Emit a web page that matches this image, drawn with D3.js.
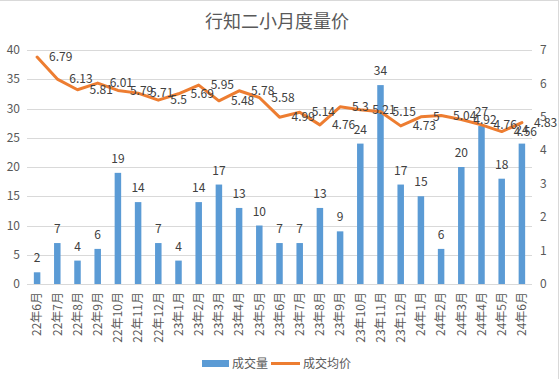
<!DOCTYPE html>
<html>
<head>
<meta charset="utf-8">
<script src="https://cdn.jsdelivr.net/npm/d3@7"></script>
<style>
  body { margin: 0; background: #fff; }
  text { font-family: "Noto Sans CJK SC", "Liberation Sans", sans-serif; }
</style>
</head>
<body>
<div id="chart"></div>
<script>
const months = [
    "22年6月", "22年7月", "22年8月", "22年9月", "22年10月", "22年11月", "22年12月",
    "23年1月", "23年2月", "23年3月", "23年4月", "23年5月", "23年6月", "23年7月",
    "23年8月", "23年9月", "23年10月", "23年11月", "23年12月",
    "24年1月", "24年2月", "24年3月", "24年4月", "24年5月", "24年6月"
];
const volume = [2, 7, 4, 6, 19, 14, 7, 4, 14, 17, 13, 10, 7, 7, 13, 9, 24, 34, 17, 15, 6, 20, 27, 18, 24];
const avgPrice = [6.79, 6.13, 5.81, 6.01, 5.79, 5.71, 5.5, 5.69, 5.95, 5.48, 5.78, 5.58, 4.99, 5.14,
    4.76, 5.3, 5.21, 5.15, 4.73, 5, 5.04, 4.92, 4.76, 4.56, 4.83];
const leftTicks = [0, 5, 10, 15, 20, 25, 30, 35, 40];
const rightTicks = [0, 1, 2, 3, 4, 5, 6, 7];

const width = 560, height = 379;
const margin = { top: 50, right: 28, bottom: 95, left: 27 };

const svg = d3.select("#chart")
    .append("svg")
    .attr("width", width)
    .attr("height", height);

const textColor = "#595959";
const blue = "#5B9BD5";
const orange = "#ED7D31";

// outer frame lines (top and right)
svg.append("line")
    .attr("x1", 558.5).attr("x2", 558.5)
    .attr("y1", 0).attr("y2", height)
    .attr("stroke", "#d9d9d9");
svg.append("line")
    .attr("x1", 0).attr("x2", 558.5)
    .attr("y1", 0.5).attr("y2", 0.5)
    .attr("stroke", "#d9d9d9");

svg.append("text")
    .attr("x", 277)
    .attr("y", 28)
    .attr("text-anchor", "middle")
    .attr("fill", textColor)
    .style("font-size", "18px")
    .text("行知二小月度量价");

const x = d3.scaleBand()
    .domain(months)
    .range([margin.left, width - margin.right]);

const yLeft = d3.scaleLinear()
    .domain([0, 40])
    .range([height - margin.bottom, margin.top]);

const yRight = d3.scaleLinear()
    .domain([0, 7])
    .range([height - margin.bottom, margin.top]);

// gridlines
svg.append("g")
    .selectAll("line")
    .data(leftTicks)
    .join("line")
    .attr("x1", margin.left)
    .attr("x2", width - margin.right)
    .attr("y1", d => Math.round(yLeft(d)) + 0.5)
    .attr("y2", d => Math.round(yLeft(d)) + 0.5)
    .attr("stroke", "#d9d9d9");

// left axis labels
svg.append("g")
    .style("font-size", "12px")
    .selectAll("text")
    .data(leftTicks)
    .join("text")
    .attr("x", 20)
    .attr("y", d => yLeft(d))
    .attr("dy", "0.35em")
    .attr("text-anchor", "end")
    .attr("fill", textColor)
    .text(d => d);

// right axis labels
svg.append("g")
    .style("font-size", "12px")
    .selectAll("text")
    .data(rightTicks)
    .join("text")
    .attr("x", 540)
    .attr("y", d => yRight(d))
    .attr("dy", "0.35em")
    .attr("text-anchor", "start")
    .attr("fill", textColor)
    .text(d => d);

// bars
const barW = 6.5;
svg.append("g")
    .selectAll("rect")
    .data(volume)
    .join("rect")
    .attr("x", (d, i) => x(months[i]) + x.bandwidth() / 2 - barW / 2)
    .attr("y", d => yLeft(d))
    .attr("width", barW)
    .attr("height", d => yLeft(0) - yLeft(d))
    .attr("fill", blue);

// bar labels
svg.append("g")
    .style("font-size", "12px")
    .selectAll("text")
    .data(volume)
    .join("text")
    .attr("x", (d, i) => x(months[i]) + x.bandwidth() / 2)
    .attr("y", d => yLeft(d) - 10)
    .attr("text-anchor", "middle")
    .attr("fill", "#404040")
    .text(d => d);

// x labels, rotated
svg.append("g")
    .style("font-size", "12px")
    .selectAll("text")
    .data(months)
    .join("text")
    .attr("transform", d => `translate(${x(d) + x.bandwidth() / 2},${yLeft(0) + 8}) rotate(-90)`)
    .attr("dy", "0.35em")
    .attr("text-anchor", "end")
    .attr("fill", textColor)
    .text(d => d);

// price line
const line = d3.line()
    .x((d, i) => x(months[i]) + x.bandwidth() / 2)
    .y(d => yRight(d));

svg.append("path")
    .datum(avgPrice)
    .attr("d", line)
    .attr("fill", "none")
    .attr("stroke", orange)
    .attr("stroke-width", 3)
    .attr("stroke-linejoin", "round")
    .attr("stroke-linecap", "round");

// price labels, to the right of the points
svg.append("g")
    .style("font-size", "12px")
    .selectAll("text")
    .data(avgPrice)
    .join("text")
    .attr("x", (d, i) => x(months[i]) + x.bandwidth() / 2 + 12)
    .attr("y", d => yRight(d))
    .attr("dy", "0.35em")
    .attr("fill", "#404040")
    .text(d => d);

// legend
const legend = svg.append("g").style("font-size", "12px");
legend.append("rect")
    .attr("x", 202).attr("y", 360)
    .attr("width", 27).attr("height", 7)
    .attr("fill", blue);
legend.append("text")
    .attr("x", 232).attr("y", 364)
    .attr("dy", "0.35em")
    .attr("fill", textColor)
    .text("成交量");
legend.append("line")
    .attr("x1", 271).attr("x2", 300)
    .attr("y1", 363.5).attr("y2", 363.5)
    .attr("stroke", orange)
    .attr("stroke-width", 3);
legend.append("text")
    .attr("x", 303).attr("y", 364)
    .attr("dy", "0.35em")
    .attr("fill", textColor)
    .text("成交均价");
</script>
</body>
</html>
